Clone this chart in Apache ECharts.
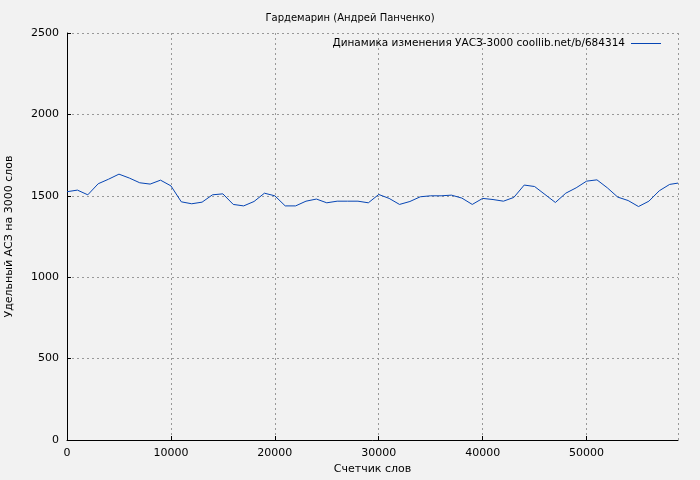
<!DOCTYPE html>
<html><head><meta charset="utf-8">
<script src="https://cdn.jsdelivr.net/npm/echarts@6/dist/echarts.min.js"></script>
<style>html,body{margin:0;background:#f2f2f2}#c{width:700px;height:480px}</style>
</head><body><div id="c"></div>
<script>
const xs = [0,1000,2000,3000,4000,5000,6000,7000,8000,9000,10000,11000,12000,13000,14000,15000,16000,17000,18000,19000,20000,21000,22000,23000,24000,25000,26000,27000,28000,29000,30000,31000,32000,33000,34000,35000,36000,37000,38000,39000,40000,41000,42000,43000,44000,45000,46000,47000,48000,49000,50000,51000,52000,53000,54000,55000,56000,57000,58000,58800];
const ys = [1525,1535,1506,1574,1602,1633,1609,1580,1572,1596,1561,1463,1451,1461,1506,1512,1447,1438,1465,1516,1500,1438,1438,1467,1480,1457,1467,1467,1467,1457,1508,1484,1447,1465,1494,1500,1500,1504,1486,1447,1484,1477,1467,1490,1566,1557,1508,1459,1516,1549,1590,1598,1549,1492,1471,1434,1467,1531,1570,1578];
const seriesName = 'Динамика изменения УАСЗ-3000 coollib.net/b/684314';
const chart = echarts.init(document.getElementById('c'));
const font = 'DejaVu Sans';
chart.setOption({
  backgroundColor:'#f2f2f2',
  animation:false,
  textStyle:{fontFamily:font},
  title:{text:'Гардемарин (Андрей Панченко)',left:'center',top:8,textStyle:{fontSize:10,fontWeight:'normal',color:'#000',fontFamily:font}},
  legend:{right:34,top:33,icon:'path://M0,0H30V1H0Z',itemWidth:32,itemHeight:1,align:'right',itemGap:0,
    textStyle:{fontSize:10.5,color:'#000',fontFamily:font},data:[seriesName]},
  grid:{left:67,right:22,top:33,bottom:40,outerBoundsMode:'none',containLabel:false},
  xAxis:{type:'value',min:0,max:58800,interval:10000,name:'Счетчик слов',nameLocation:'middle',nameGap:24,
    nameTextStyle:{fontSize:11,color:'#000'},
    axisLine:{lineStyle:{color:'#000'}},axisTick:{inside:true,length:4,lineStyle:{color:'#000'}},
    axisLabel:{fontSize:11,color:'#000',showMaxLabel:false,formatter:v=>String(v)},
    splitLine:{show:true,lineStyle:{color:'#999',type:[2,3]}}},
  yAxis:{type:'value',min:0,max:2500,interval:500,name:'Удельный АСЗ на 3000 слов',nameLocation:'middle',nameGap:52,
    nameTextStyle:{fontSize:11,color:'#000'},
    axisLine:{show:true,lineStyle:{color:'#000'}},axisTick:{show:true,inside:true,length:4,lineStyle:{color:'#000'}},
    axisLabel:{fontSize:11,color:'#000',formatter:v=>String(v)},
    splitLine:{show:true,lineStyle:{color:'#999',type:[2,3]}}},
  series:[{name:seriesName,type:'line',data:xs.map((x,i)=>[x,ys[i]]),showSymbol:false,
    lineStyle:{color:'#0645b4',width:1},itemStyle:{color:'#0645b4'}}]
});
</script></body></html>
